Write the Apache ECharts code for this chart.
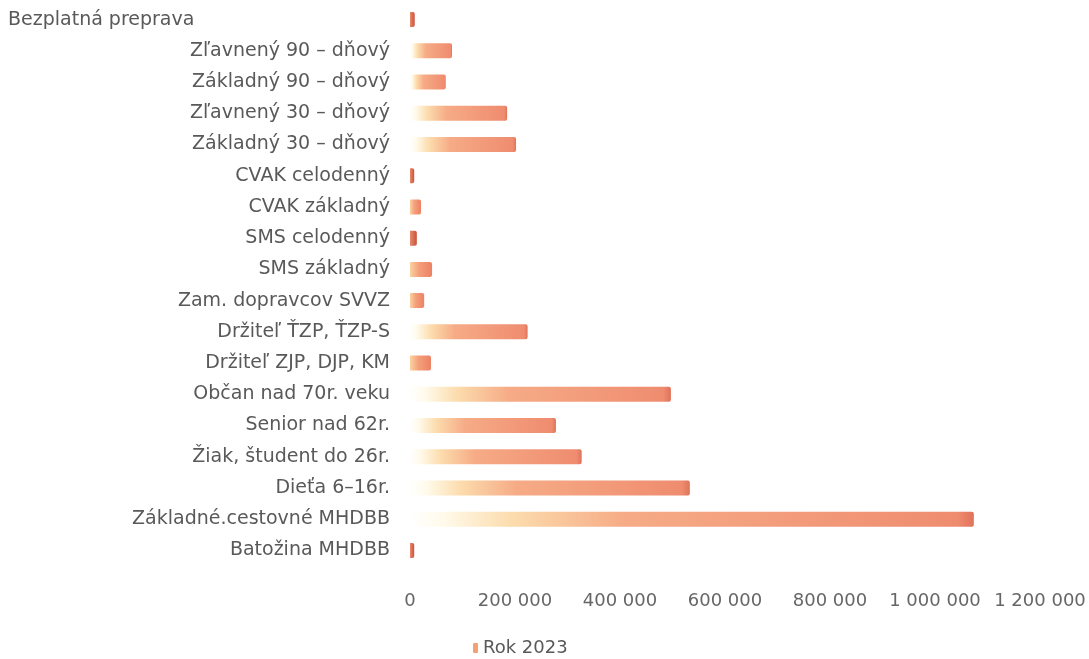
<!DOCTYPE html>
<html>
<head>
<meta charset="utf-8">
<title>Rok 2023</title>
<script src="https://cdn.jsdelivr.net/npm/echarts@6/dist/echarts.min.js"></script>
<style>
  html, body { margin: 0; padding: 0; background: #ffffff; }
  #chart { width: 1089px; height: 659px; }
</style>
</head>
<body>
<div id="chart"></div>
<script>
// kategórie cestovného (zhora nadol)
var categories = [
  'Bezplatná preprava',
  'Zľavnený 90 – dňový',
  'Základný 90 – dňový',
  'Zľavnený 30 – dňový',
  'Základný 30 – dňový',
  'CVAK celodenný',
  'CVAK základný',
  'SMS celodenný',
  'SMS základný',
  'Zam. dopravcov SVVZ',
  'Držiteľ ŤZP, ŤZP-S',
  'Držiteľ ZJP, DJP, KM',
  'Občan nad 70r. veku',
  'Senior nad 62r.',
  'Žiak, študent do 26r.',
  'Dieťa 6–16r.',
  'Základné.cestovné MHDBB',
  'Batožina MHDBB'
]
// hodnoty odčítané z grafu
var values2023 = [
  9000, 80000, 68000, 185000, 202000, 8000, 21000, 13000, 42000,
  27000, 224000, 40000, 497000, 278000, 327000, 533000, 1074000, 8000
]
var xTicks = [0, 200000, 400000, 600000, 800000, 1000000, 1200000]

function fmt(v) {
  return String(v).replace(/\B(?=(\d{3})+(?!\d))/g, ' ')
}

// farba stĺpca - prechod zo svetlej do oranžovej
function barColor(params) {
  var v = params.value
  if (v < 15000) {
    return new echarts.graphic.LinearGradient(0, 0, 1, 0, [
      { offset: 0, color: '#e88a6c' },
      { offset: 1, color: '#c9523d' }
    ])
  }
  if (v < 50000) {
    return new echarts.graphic.LinearGradient(0, 0, 1, 0, [
      { offset: 0, color: '#fbd3a0' },
      { offset: 0.4, color: '#f4a07a' },
      { offset: 1, color: '#ec8163' }
    ])
  }
  return new echarts.graphic.LinearGradient(0, 0, 1, 0, [
    { offset: 0, color: '#ffffff' },
    { offset: 0.06, color: '#fffaea' },
    { offset: 0.18, color: '#fcdcad' },
    { offset: 0.38, color: '#f6ab86' },
    { offset: 0.97, color: '#ef8c70' },
    { offset: 1, color: '#e0735a' }
  ])
}

var chart = echarts.init(document.getElementById('chart'))
chart.setOption({
  backgroundColor: '#ffffff',
  animation: false,
  textStyle: { fontFamily: 'DejaVu Sans' },
  grid: { left: 410, right: 49, top: 4, bottom: 93 },
  legend: {
    left: 468,
    bottom: -3,
    itemWidth: 5,
    itemHeight: 10,
    itemGap: 4,
    textStyle: { color: '#595959', fontSize: 18, fontFamily: 'DejaVu Sans' },
    data: ['Rok 2023']
  },
  xAxis: {
    type: 'value',
    min: xTicks[0],
    max: xTicks[xTicks.length - 1],
    interval: xTicks[1] - xTicks[0],
    splitLine: { show: false },
    axisLine: { show: false },
    axisTick: { show: false },
    axisLabel: {
      color: '#666666',
      fontSize: 18,
      margin: 26,
      formatter: function (v) { return fmt(v) }
    }
  },
  yAxis: {
    type: 'category',
    inverse: true,
    data: categories,
    axisLine: { show: false },
    axisTick: { show: false },
    axisLabel: {
      color: '#595959',
      fontSize: 19,
      margin: 20,
      // prvý popis je v origináli zarovnaný vľavo
      formatter: function (v, i) {
        return i === 0 ? '{first|' + v + '}' : v
      },
      rich: {
        first: { width: 382, align: 'left', fontSize: 19, color: '#595959' }
      }
    }
  },
  series: [
    {
      name: 'Rok 2023',
      type: 'bar',
      barWidth: 15,
      data: values2023,
      itemStyle: {
        color: barColor,
        borderRadius: [0, 2, 2, 0]
      }
    }
  ]
})
// farba ikony v legende
chart.setOption({
  series: [{ name: 'Rok 2023', color: '#f4a070' }]
})
</script>
</body>
</html>
